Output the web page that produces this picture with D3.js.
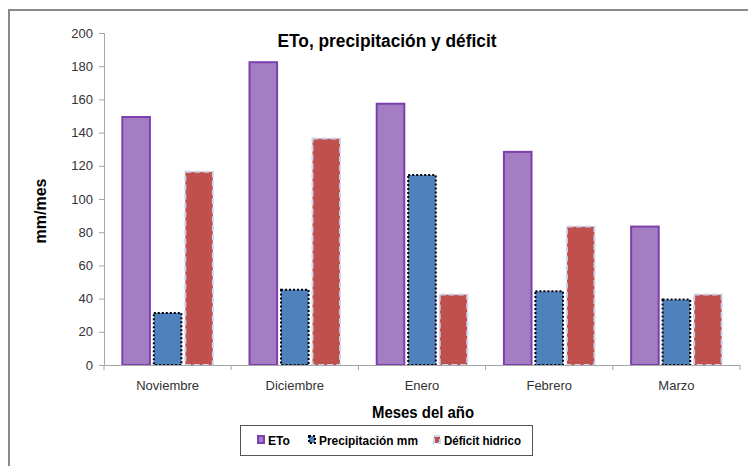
<!DOCTYPE html>
<html><head><meta charset="utf-8">
<script src="https://cdn.jsdelivr.net/npm/d3@7"></script>
<style>body{margin:0;background:#fff}svg{display:block}</style>
</head><body>
<svg id="chart" width="748" height="466"></svg>
<script>
const categories = ["Noviembre","Diciembre","Enero","Febrero","Marzo"];
const seriesNames = ["ETo","Precipitación mm","Déficit hidrico"];
const eto = [150, 183, 158, 129, 84];
const precipitacion = [32, 46, 115, 45, 40];
const deficit = [117, 137, 43, 84, 43];
const yTicks = [0,20,40,60,80,100,120,140,160,180,200];

const svg = d3.select("#chart");
const m = {left:104, right:740, top:33, bottom:365};

// frame
svg.append("path").attr("d","M9,466 V10 H748").attr("fill","none").attr("stroke","#8a8a8a").attr("stroke-width",2);

const x0 = d3.scaleBand().domain(categories).range([m.left,m.right]).paddingInner(0).paddingOuter(0);
const y = d3.scaleLinear().domain([0,200]).range([m.bottom,m.top]);

const styles = [
  {fill:"#a47dc2", stroke:"#7b3fae", dash:null, inset:1},
  {fill:"#4f81bd", stroke:"#000", dash:"2,2", inset:1},
  {fill:"#c0504d", stroke:"#c9d6ec", dash:"6,3", inset:1}
];
const data = [eto, precipitacion, deficit];
const x1 = d3.scaleBand().domain(d3.range(3)).range([0, x0.bandwidth()]).paddingInner(0.06).paddingOuter(0.55);

// axes
const yAxis = d3.axisLeft(y).tickValues(yTicks).tickSize(5).tickPadding(6);
const gy = svg.append("g").attr("transform",`translate(${m.left},0)`).call(yAxis);
gy.select(".domain").attr("stroke","#a6a6a6");
gy.selectAll(".tick line").attr("stroke","#a6a6a6");
gy.selectAll("text").attr("fill","#333").style("font-family","Liberation Sans, Arial, sans-serif").style("font-size","13px");

// bars
data.forEach((vals,i)=>{
  const s = styles[i];
  svg.append("g").selectAll("rect").data(vals).join("rect")
    .attr("x",(d,j)=>x0(categories[j])+x1(i)+s.inset)
    .attr("y",d=>y(d)+s.inset)
    .attr("width",x1.bandwidth()-2*s.inset)
    .attr("height",d=>y(0)-y(d)-s.inset)
    .attr("fill",s.fill).attr("stroke",s.stroke).attr("stroke-width",2)
    .attr("stroke-dasharray",s.dash);
});

const xAxis = d3.axisBottom(x0).tickSize(0).tickPadding(16);
const gx = svg.append("g").attr("transform",`translate(0,${m.bottom})`).call(xAxis);
gx.select(".domain").attr("stroke","#a6a6a6");
gx.selectAll("text").attr("fill","#333").style("font-family","Liberation Sans, Arial, sans-serif").style("font-size","13px");
// category separator ticks
const seps = categories.map(c=>x0(c)).concat([m.right]);
svg.append("g").selectAll("line").data(seps).join("line")
  .attr("x1",d=>d).attr("x2",d=>d).attr("y1",m.bottom).attr("y2",m.bottom+5).attr("stroke","#a6a6a6");

// title
svg.append("text").attr("x",387).attr("y",47).attr("text-anchor","middle")
  .attr("textLength",219).attr("lengthAdjust","spacingAndGlyphs")
  .style("font-family","Liberation Sans, Arial, sans-serif").style("font-weight","bold").style("font-size","18px")
  .attr("fill","#000").text("ETo, precipitación y déficit");

// y label
svg.append("text").attr("transform","translate(46,211) rotate(-90)").attr("text-anchor","middle")
  .style("font-family","Liberation Sans, Arial, sans-serif").style("font-weight","bold").style("font-size","16px")
  .attr("fill","#000").text("mm/mes");

// x label
svg.append("text").attr("x",423).attr("y",418).attr("text-anchor","middle")
  .attr("textLength",102).attr("lengthAdjust","spacingAndGlyphs")
  .style("font-family","Liberation Sans, Arial, sans-serif").style("font-weight","bold").style("font-size","17px")
  .attr("fill","#000").text("Meses  del año");

// legend
const lg = svg.append("g");
lg.append("rect").attr("x",240.5).attr("y",425.5).attr("width",292).attr("height",30).attr("fill","#fff").attr("stroke","#555").attr("stroke-width",1);
const legX = [257, 308, 433];
const legW = [22, 99, 77];
seriesNames.forEach((n,i)=>{
  const s = styles[i];
  lg.append("rect").attr("x",legX[i]+1).attr("y",436).attr("width",6).attr("height",7)
    .attr("fill",s.fill).attr("stroke",s.stroke).attr("stroke-width",2).attr("stroke-dasharray",s.dash);
  lg.append("text").attr("x",legX[i]+11).attr("y",445)
    .attr("textLength",legW[i]).attr("lengthAdjust","spacingAndGlyphs")
    .style("font-family","Liberation Sans, Arial, sans-serif").style("font-weight","bold").style("font-size","13px")
    .attr("fill","#000").text(n);
});
</script>
</body></html>
